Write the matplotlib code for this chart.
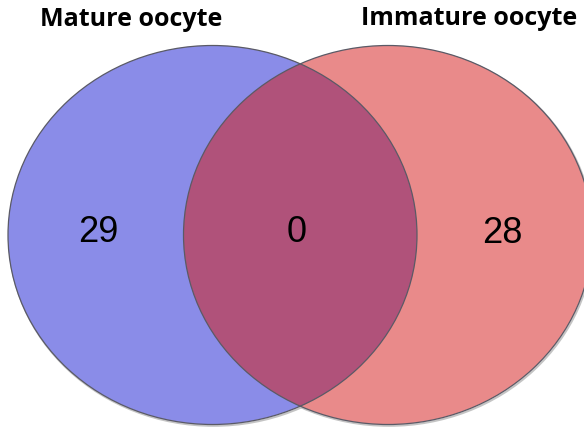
import matplotlib
matplotlib.use("Agg")
import matplotlib.pyplot as plt
from matplotlib.patches import Ellipse

# data
set_names = ["Mature oocyte", "Immature oocyte"]
only_counts = [29, 28]
shared_count = 0

# layout (pixel space)
W, H = 584, 428
cx = [212.5, 388]
cy = 235
half_w, half_h = 204.5, 189.5
fills = ["#8a8ce8", "#e98a8a"]
overlap_fill = "#b0527a"
edge = "#5a5a66"

fig = plt.figure(figsize=(W / 100, H / 100), dpi=100)
ax = fig.add_axes([0, 0, 1, 1])
ax.set_xlim(0, W)
ax.set_ylim(H, 0)
ax.axis("off")

# soft shadow
for x in cx:
    ax.add_patch(Ellipse((x + 1.0, cy + 1.3), 2 * half_w, 2 * half_h,
                         facecolor="none", edgecolor="#c4c4c4", lw=1.5, zorder=1))

shapes = []
for x, c in zip(cx, fills):
    e = Ellipse((x, cy), 2 * half_w, 2 * half_h, facecolor=c, edgecolor="none", zorder=2)
    ax.add_patch(e)
    shapes.append(e)

# overlap region: left ellipse clipped to right one
ov = Ellipse((cx[0], cy), 2 * half_w, 2 * half_h, facecolor=overlap_fill,
             edgecolor="none", zorder=3)
ax.add_patch(ov)
ov.set_clip_path(shapes[1])

for x in cx:
    ax.add_patch(Ellipse((x, cy), 2 * half_w, 2 * half_h, facecolor="none",
                         edgecolor=edge, lw=0.9, zorder=4))

# counts
num_kw = dict(fontsize=26, family="Liberation Sans", ha="center", va="center", zorder=5)
ax.text(98, cy - 3, str(only_counts[0]), **num_kw)
ax.text(297, cy - 3, str(shared_count), **num_kw)
ax.text(502, cy - 2, str(only_counts[1]), **num_kw)

# set titles
title_kw = dict(fontsize=18, fontweight="bold", family="Open Sans", ha="center", va="center")
ax.text(131, 19, set_names[0], **title_kw)
ax.text(469, 18, set_names[1], **title_kw)

fig.savefig("out.png", dpi=100)
